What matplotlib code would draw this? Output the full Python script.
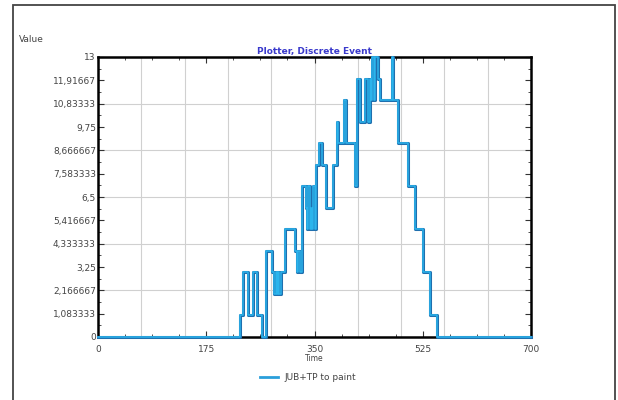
import numpy as np
import matplotlib
matplotlib.use("Agg")
import matplotlib.pyplot as plt
from matplotlib.ticker import MultipleLocator, FuncFormatter
from matplotlib.patches import Rectangle

plt.rcParams["font.family"] = ["DejaVu Sans"]

# discrete event series: time of each event and the value held after it
event_time = [0, 229.5, 235, 243, 251, 256.5, 264.6, 271.6, 280.8, 285, 287,
              289.4, 291, 292.6, 295.8, 302.3, 318.5, 322, 324, 326, 329.3,
              336, 338, 340, 342, 344, 346, 348, 351, 353, 358, 362, 368,
              375, 380.4, 385.9, 388, 397.7, 400.9, 415.5, 418.2, 423.5,
              431.6, 436.5, 439.7, 441, 443, 446, 448, 452, 455.9, 474.8,
              476.9, 485, 501.1, 512.5, 525.9, 536.7, 547.5, 700]
event_value = [0, 1, 3, 1, 3, 1, 0, 4, 3, 2, 3,
               2, 3, 2, 3, 5, 4, 3, 4, 3, 7,
               6, 5, 7, 5, 6, 5, 7, 5, 8, 9, 8, 6,
               6, 8, 10, 9, 11, 9, 7, 12, 10,
               12, 10, 12, 11, 13, 11, 13, 12, 11, 13,
               11, 9, 7, 5, 3, 1, 0, 0]

series_name = "JUB+TP to paint"
x_ticks = [0, 175, 350, 525, 700]
y_max = 13

fig = plt.figure(figsize=(6.18, 4.0), dpi=100)
fig.patch.set_facecolor("white")

# outer frame of the plotter window
fig.add_artist(Rectangle((13 / 618, -0.02), 602 / 618, 1 - 5 / 400 + 0.02,
                         transform=fig.transFigure, fill=False,
                         edgecolor="#444444", linewidth=1.3))

ax = fig.add_axes([98 / 618, 1 - 337 / 400, 433 / 618, 280 / 400])
ax.set_xlim(0, 700)
ax.set_ylim(0, y_max)

# grid every 70 in time and 13/6 in value
for gx in np.arange(70, 700, 70):
    ax.axvline(gx, color="#d0d0d0", linewidth=0.8, zorder=0)
for gy in np.arange(1, 6) * y_max / 6:
    ax.axhline(gy, color="#d0d0d0", linewidth=0.8, zorder=0)

ax.plot(event_time, event_value, drawstyle="steps-post", color="#1f6fae",
        linewidth=2.2, zorder=3, clip_on=False)
ax.plot(event_time, event_value, drawstyle="steps-post", color="#2bb4ec",
        linewidth=1.1, zorder=4, clip_on=False, label=series_name)

ax.set_xticks(x_ticks)
ax.xaxis.set_minor_locator(MultipleLocator(700 / 16))
ax.yaxis.set_major_locator(MultipleLocator(y_max / 12))
ax.yaxis.set_minor_locator(MultipleLocator(y_max / 24))
ax.yaxis.set_major_formatter(FuncFormatter(lambda v, p: ("%.7g" % v).replace(".", ",")))

ax.tick_params(which="both", direction="in", top=True, right=True,
               labelsize=6.5, labelcolor="#444444", color="#333333")
ax.tick_params(which="major", length=4, width=0.8)
ax.tick_params(which="minor", length=2.5, width=0.6)
ax.tick_params(axis="y", pad=1.5)
ax.tick_params(axis="x", pad=6)

for sp in ax.spines.values():
    sp.set_linewidth(1.8)
    sp.set_color("black")

ax.set_title("Plotter, Discrete Event", fontsize=6.5, fontweight="bold",
             color="#3a3acc", pad=2)
ax.set_xlabel("Time", fontsize=5.5, color="#444444", labelpad=0)
fig.text(19 / 618, 1 - 40 / 400, "Value", fontsize=6.5, color="#444444",
         va="center", ha="left")

leg = fig.legend(loc="center", bbox_to_anchor=(308 / 618, 1 - 378 / 400),
                 frameon=False, fontsize=6.5, handlelength=2.0,
                 handletextpad=0.8, labelcolor="#444444")
for h in leg.get_lines():
    h.set_linewidth(2.0)
    h.set_color("#2a9fdb")

fig.savefig("out.png", dpi=100, facecolor="white")
